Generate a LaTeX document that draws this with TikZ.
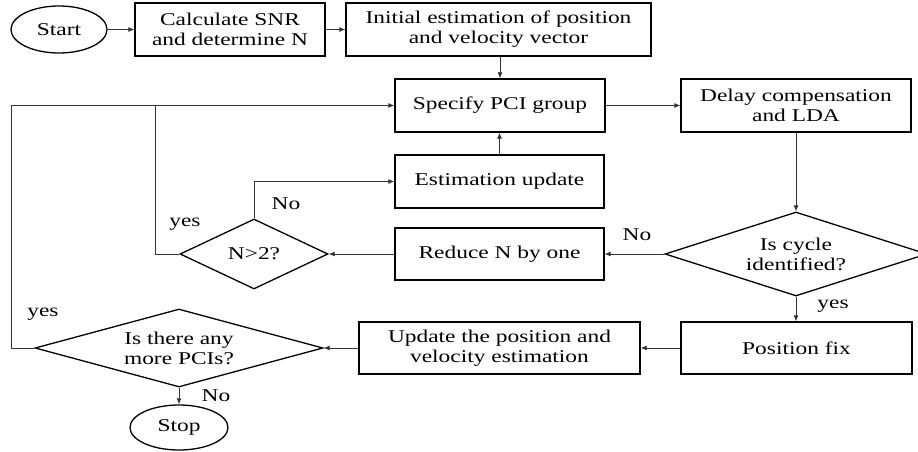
\documentclass[tikz,border=0pt]{standalone}
\usepackage{fontspec}
\setmainfont{Liberation Serif}[FakeStretch=1.3]
\usetikzlibrary{shapes.geometric,arrows.meta}
\begin{document}
\begin{tikzpicture}[x=1pt,y=-1pt,
  font=\fontsize{18}{20}\selectfont,
  box/.style={draw, line width=1.3pt, inner sep=0pt, align=center},
  term/.style={draw, ellipse, line width=1.3pt, inner sep=0pt},
  dec/.style={draw, diamond, line width=1.3pt, inner sep=0pt, align=center},
  conn/.style={line width=0.8pt, draw=black!80},
  arr/.style={conn, -{Latex[length=6pt,width=5pt]}},
  lbl/.style={inner sep=0pt}]
\useasboundingbox (0,0) rectangle (918,452);

\node[term, minimum width=96pt, minimum height=47pt] (start) at (59,29.5) {Start};
\node[box, minimum width=190pt, minimum height=53pt] (calc) at (230,29.5) {Calculate SNR\\and determine N};
\node[box, minimum width=305pt, minimum height=53pt] (init) at (498.5,29.5) {Initial estimation of position\\and velocity vector};
\node[box, minimum width=210pt, minimum height=53pt] (spec) at (500,105.5) {Specify PCI group};
\node[box, minimum width=230pt, minimum height=53pt] (delay) at (796,105.5) {Delay compensation\\and LDA};
\node[box, minimum width=209pt, minimum height=53pt] (est) at (499.5,181.5) {Estimation update};
\node[box, minimum width=209pt, minimum height=52pt] (reduce) at (499.5,254) {Reduce N by one};
\node[dec, aspect=2.1, minimum width=148pt, minimum height=70pt] (n2) at (254,254) {N>2?};
\node[dec, aspect=3.1, minimum width=262pt, minimum height=84pt] (cycle) at (796,254) {Is cycle\\identified?};
\node[box, minimum width=231pt, minimum height=52pt] (pos) at (796.5,348) {Position fix};
\node[box, minimum width=281pt, minimum height=52pt] (upd) at (499.5,348) {Update the position and\\velocity estimation};
\node[dec, aspect=3.7, minimum width=288pt, minimum height=78pt] (pcis) at (179,348) {Is there any\\more PCIs?};
\node[term, minimum width=98pt, minimum height=45pt] (stop) at (179,427.5) {Stop};

\coordinate (j0) at (11,105.5);
\coordinate (j1) at (155,105.5);

\draw[arr] (start) -- (calc);
\draw[arr] (calc) -- (init);
\draw[arr] (init.south -| spec.north) -- (spec.north);
\draw[arr] (spec) -- (delay);
\draw[arr] (delay) -- (cycle);
\draw[arr] (cycle.west) -- (reduce.east);
\draw[arr] (reduce.west) -- (n2.east);
\draw[conn] (n2.west) -| (j1);
\draw[arr] (n2.north) |- (est.west);
\draw[arr] (est.north) -- (est.north |- spec.south);
\draw[arr] (cycle.south) -- (pos.north -| cycle.south);
\draw[arr] (pos.west) -- (upd.east);
\draw[arr] (upd.west) -- (pcis.east);
\draw[arr] (pcis.west) -| (j0) -- (spec.west);
\draw[arr] (pcis.south) -- (stop.north);

\node[lbl] (l1) at (185,224) {yes};
\node[lbl] (l2) at (286,204) {No};
\node[lbl] (l3) at (637,235) {No};
\node[lbl] (l4) at (833,306) {yes};
\node[lbl] (l5) at (43,314) {yes};
\node[lbl] (l6) at (216,396) {No};
\end{tikzpicture}
\end{document}
